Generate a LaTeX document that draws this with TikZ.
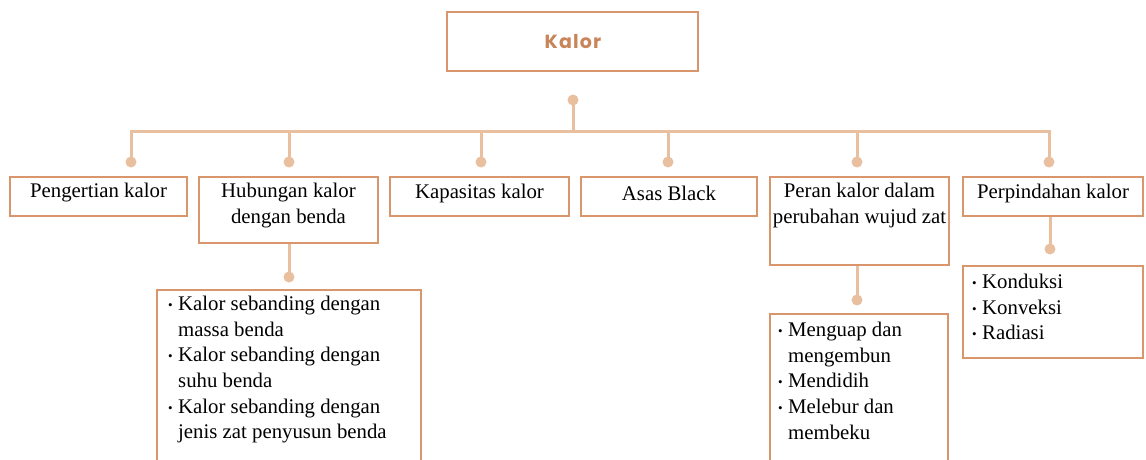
\documentclass[tikz,border=0pt]{standalone}
\usepackage{fontspec}
\setmainfont{Liberation Serif}
\newfontfamily\titlefont[LetterSpace=6]{Poppins}
\definecolor{linec}{HTML}{E9C09F}
\definecolor{boxc}{HTML}{D9956B}
\definecolor{titlec}{HTML}{C8855A}
\begin{document}
\begin{tikzpicture}[x=1pt,y=-1pt,
  box/.style={draw=boxc,line width=1.4pt,inner sep=0pt},
  conn/.style={draw=linec,line width=3pt},
  dot/.style={circle,fill=linec,inner sep=0pt,minimum size=11pt},
  txt/.style={inner sep=0pt,font=\fontsize{20.8}{26}\selectfont,align=center},
  lst/.style={inner sep=0pt,font=\fontsize{20.8}{25.6}\selectfont,align=left,anchor=north west},
]
\newcommand{\bul}{\makebox[10pt][l]{\raisebox{1pt}{\fontsize{13}{13}\selectfont\textbullet}}}
\newcommand{\ind}{\hspace*{10pt}}
\useasboundingbox (0,0) rectangle (1146,460);
% title
\node[box,minimum width=251,minimum height=59] (kalor) at (572.5,41.5) {};
\node[inner sep=0pt,text=titlec,font=\titlefont\bfseries\fontsize{19}{22}\selectfont] at (573,42) {Kalor};
% top level boxes
\node[box,minimum width=177,minimum height=39] (pk) at (98.5,196.5) {};
\node[box,minimum width=179,minimum height=66] (hub) at (288.5,210) {};
\node[box,minimum width=179,minimum height=39] (kap) at (479.5,196.5) {};
\node[box,minimum width=176,minimum height=39] (asas) at (669,196.5) {};
\node[box,minimum width=179,minimum height=88] (peran) at (859.5,221) {};
\node[box,minimum width=180,minimum height=39] (perp) at (1053,196.5) {};
\node[txt] at (98.5,193) {Pengertian kalor};
\node[txt] at (288.5,206) {Hubungan kalor\\dengan benda};
\node[txt] at (479.5,193) {Kapasitas kalor};
\node[txt] at (669,193) {Asas Black};
\node[txt] at (859.5,205) {Peran kalor dalam\\perubahan wujud zat};
\node[txt] at (1053,193) {Perpindahan kalor};
% dots
\node[dot] (d0) at (573,100) {};
\coordinate (bus) at (0,131);
\node[dot] (d1) at (131,162) {};
\node[dot] (d2) at (289,162) {};
\node[dot] (d3) at (481,162) {};
\node[dot] (d4) at (668,162) {};
\node[dot] (d5) at (857,162) {};
\node[dot] (d6) at (1049,162) {};
\node[dot] (d7) at (289,277) {};
\node[dot] (d8) at (857,300) {};
\node[dot] (d9) at (1050,249) {};
\draw[conn] (d0.center) -- (d0 |- bus);
\draw[conn] ([xshift=-1.5pt]d1 |- bus) -- ([xshift=1.5pt]d6 |- bus);
\foreach \d in {d1,d2,d3,d4,d5,d6} \draw[conn] (\d |- bus) -- (\d.center);
\draw[conn] (hub.south -| d7) -- (d7.center);
\draw[conn] (peran.south -| d8) -- (d8.center);
\draw[conn] (perp.south -| d9) -- (d9.center);
% sub boxes
\coordinate (hl) at (157,290);
\coordinate (hr) at (421,290);
\draw[boxc,line width=1.4pt] (157,461) -- (hl) -- (hr) -- (421,461);
\coordinate (pl) at (770,314);
\coordinate (pr) at (948,314);
\draw[boxc,line width=1.4pt] (770,461) -- (pl) -- (pr) -- (948,461);
\node[box,minimum width=180,minimum height=92] (rad) at (1053,312) {};
% lists
\node[lst] at (168,296) {\bul Kalor sebanding dengan\\\ind massa benda\\\bul Kalor sebanding dengan\\\ind suhu benda\\\bul Kalor sebanding dengan\\\ind jenis zat penyusun benda};
\node[lst] at (778,322) {\bul Menguap dan\\\ind mengembun\\\bul Mendidih\\\bul Melebur dan\\\ind membeku};
\node[lst] at (972,274) {\bul Konduksi\\\bul Konveksi\\\bul Radiasi};
\end{tikzpicture}
\end{document}
